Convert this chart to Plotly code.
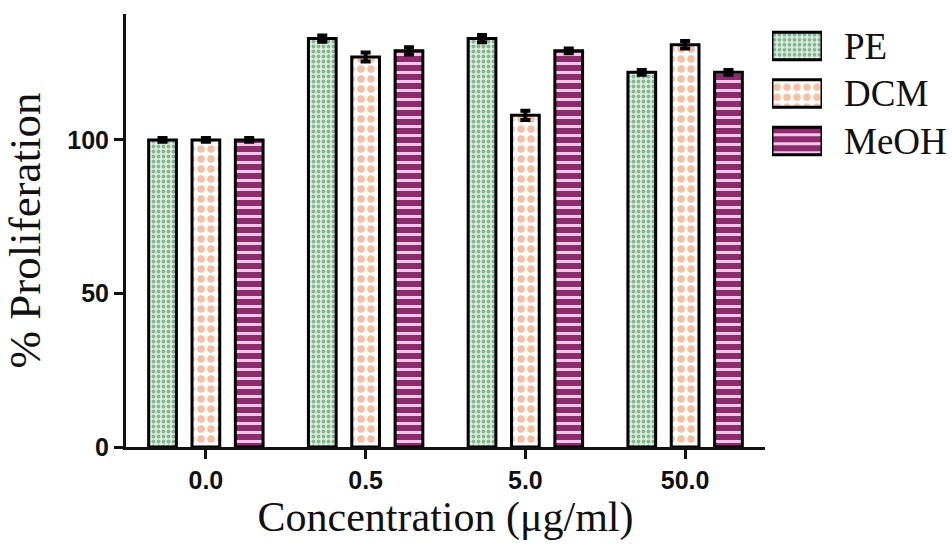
import plotly.graph_objects as go

categories = ["0.0", "0.5", "5.0", "50.0"]
series_names = ["PE", "DCM", "MeOH"]
pe_values = [100, 133, 133, 122]
dcm_values = [100, 127, 108, 131]
meoh_values = [100, 129, 129, 122]
pe_err = [0.6, 1.0, 1.2, 0.8]
dcm_err = [0.6, 1.5, 1.5, 1.2]
meoh_err = [0.6, 1.2, 0.8, 0.8]
y_ticks = [0, 50, 100]

styles = {
    "PE": dict(shape=".", fg="#86b396", bg="#dcefdd", size=5, solidity=0.45),
    "DCM": dict(shape=".", fg="#f5c0a3", bg="#ffffff", size=10, solidity=0.45),
    "MeOH": dict(shape="-", fg="#f5c4e8", bg="#8b2c6d", size=9, solidity=0.33),
}

W, H = 952, 545
L, R, T, B = 126, 0, 14, 98
pw, ph = W - L - R, H - T - B

def px_x(x):
    return (x - L) / pw

def px_y(y):
    return (H - B - y) / ph

def pattern(name):
    s = styles[name]
    return dict(color=s["bg"], line=dict(color="black", width=3),
                pattern=dict(shape=s["shape"], fgcolor=s["fg"], bgcolor=s["bg"],
                             size=s["size"], solidity=s["solidity"], fillmode="replace"))

fig = go.Figure()
for name, vals, errs in [("PE", pe_values, pe_err), ("DCM", dcm_values, dcm_err), ("MeOH", meoh_values, meoh_err)]:
    fig.add_trace(go.Bar(
        x=categories, y=vals, name=name, showlegend=False,
        marker=pattern(name),
        error_y=dict(type="data", array=errs, visible=True, color="black", thickness=4, width=5),
        xaxis="x", yaxis="y",
    ))

# custom legend swatches (one bar per series on a small side subplot)
for name in series_names:
    fig.add_trace(go.Bar(
        y=[name], x=[1], orientation="h", width=0.58, showlegend=False,
        offsetgroup="legend", marker=pattern(name),
        xaxis="x2", yaxis="y2", hoverinfo="skip",
    ))
    fig.add_annotation(x=px_x(842), xref="paper", y=name, yref="y2", text=name,
                       showarrow=False, xanchor="left", yanchor="middle",
                       font=dict(family="Liberation Serif", size=37, color="#111111"))

tickfont = dict(family="Liberation Sans", size=25, color="#111111", weight="bold")

fig.update_layout(
    width=W, height=H,
    margin=dict(l=L, r=R, t=T, b=B),
    paper_bgcolor="white", plot_bgcolor="white",
    barmode="group", bargap=0.186, bargroupgap=0.36,
    showlegend=False,
    xaxis=dict(domain=[0, px_x(765)], range=[-0.5, 3.5], type="category",
               showline=True, linecolor="#111111", linewidth=3,
               ticks="outside", ticklen=9, tickwidth=3, tickcolor="#111111",
               tickfont=tickfont, showgrid=False, zeroline=False,
               title=dict(text="Concentration (μg/ml)", standoff=4,
                          font=dict(family="Liberation Serif", size=42, color="#111111"))),
    yaxis=dict(domain=[0, 1], range=[0, 141], tickvals=y_ticks,
               showline=True, linecolor="#111111", linewidth=3,
               ticks="outside", ticklen=9, tickwidth=3, tickcolor="#111111",
               tickfont=tickfont, showgrid=False, zeroline=False,
               title=dict(text="% Proliferation", standoff=18,
                          font=dict(family="Liberation Serif", size=45, color="#111111"))),
    xaxis2=dict(domain=[px_x(772), px_x(822)], range=[0, 1], anchor="y2",
                visible=False, fixedrange=True),
    yaxis2=dict(domain=[px_y(164.75), px_y(22.25)], anchor="x2", type="category",
                categoryorder="array", categoryarray=series_names,
                autorange="reversed", visible=False, fixedrange=True),
)

fig.write_html("out.html")
